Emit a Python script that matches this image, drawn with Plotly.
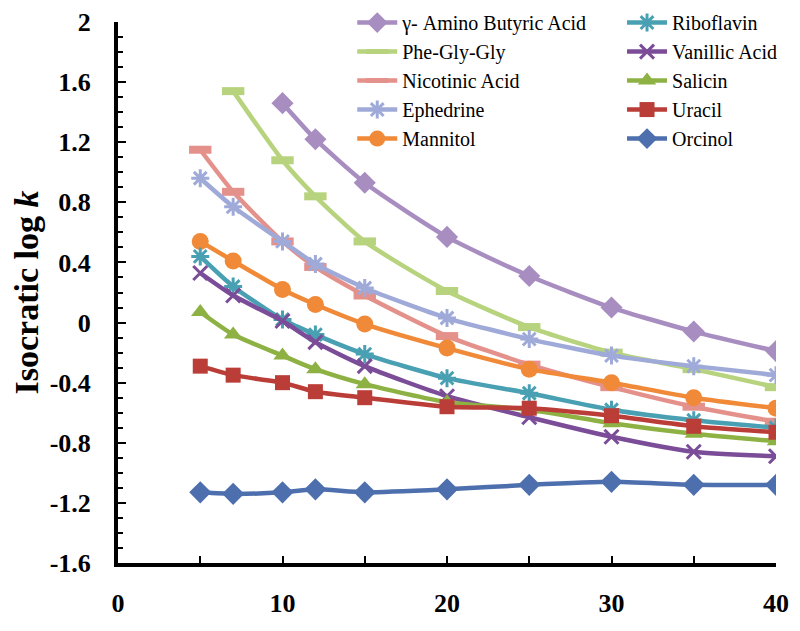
import plotly.graph_objects as go

# percentage of organic modifier (x) and isocratic log k per compound
conc = [5, 7, 10, 12, 15, 20, 25, 30, 35, 40]
conc_gaba = [10, 12, 15, 20, 25, 30, 35, 40]
conc_pgg = [7, 10, 12, 15, 20, 25, 30, 35, 40]

gaba = [1.46, 1.22, 0.93, 0.57, 0.31, 0.10, -0.06, -0.19]
phe_gly_gly = [1.54, 1.08, 0.84, 0.54, 0.21, -0.03, -0.20, -0.31, -0.43]
nicotinic = [1.15, 0.87, 0.54, 0.37, 0.18, -0.09, -0.28, -0.43, -0.56, -0.66]
ephedrine = [0.96, 0.77, 0.54, 0.39, 0.23, 0.03, -0.11, -0.22, -0.29, -0.35]
mannitol = [0.54, 0.41, 0.22, 0.12, -0.01, -0.17, -0.31, -0.40, -0.50, -0.57]
riboflavin = [0.44, 0.24, 0.02, -0.08, -0.21, -0.37, -0.47, -0.58, -0.65, -0.70]
vanillic = [0.33, 0.18, 0.01, -0.13, -0.29, -0.49, -0.63, -0.76, -0.86, -0.89]
salicin = [0.07, -0.08, -0.22, -0.31, -0.41, -0.53, -0.58, -0.67, -0.74, -0.79]
uracil = [-0.29, -0.35, -0.40, -0.46, -0.50, -0.56, -0.57, -0.62, -0.69, -0.73]
orcinol = [-1.13, -1.14, -1.13, -1.11, -1.13, -1.11, -1.08, -1.06, -1.08, -1.08]

y_ticks = [2, 1.6, 1.2, 0.8, 0.4, 0, -0.4, -0.8, -1.2, -1.6]
y_ticktext = ["2", "1.6", "1.2", "0.8", "0.4", "0", "-0.4", "-0.8", "-1.2", "-1.6"]
x_ticks = [0, 5, 10, 15, 20, 25, 30, 35, 40]
x_ticktext = ["0", "", "10", "", "20", "", "30", "", "40"]

# name, x, y, colour, marker symbol, marker size, legend
series = [
    ("\u03b3- Amino Butyric Acid", conc_gaba, gaba, "#a88dc1", "diamond", 17, "legend"),
    ("Phe-Gly-Gly", conc_pgg, phe_gly_gly, "#b7d37e", "line-ew", 16, "legend"),
    ("Nicotinic Acid", conc, nicotinic, "#e5918b", "line-ew", 16, "legend"),
    ("Ephedrine", conc, ephedrine, "#9faad9", "asterisk-open", 15, "legend"),
    ("Mannitol", conc, mannitol, "#f08a38", "circle", 17, "legend"),
    ("Riboflavin", conc, riboflavin, "#4aa0b3", "asterisk-open", 15, "legend2"),
    ("Vanillic Acid", conc, vanillic, "#7b4c97", "x-thin-open", 14, "legend2"),
    ("Salicin", conc, salicin, "#8db143", "triangle-up", 16, "legend2"),
    ("Uracil", conc, uracil, "#bb3d38", "square", 15, "legend2"),
    ("Orcinol", conc, orcinol, "#4d6fae", "diamond", 17, "legend2"),
]

fig = go.Figure()
for name, xs, ys, col, sym, size, leg in series:
    if sym == "line-ew":
        mlw = 8
    elif sym in ("asterisk-open", "x-thin-open"):
        mlw = 3
    else:
        mlw = 0
    fig.add_trace(go.Scatter(
        x=xs, y=ys, name=name, mode="lines+markers",
        line=dict(color=col, width=4.5, shape="spline", smoothing=0.6),
        marker=dict(symbol=sym, size=size, color=col, line=dict(color=col, width=mlw)),
        legend=leg,
    ))

legend_style = dict(
    font=dict(family="Liberation Serif", size=20, color="black"),
    bgcolor="rgba(0,0,0,0)", yanchor="top", xanchor="left",
    tracegroupgap=0, itemwidth=40,
)

# the page body adds an 8px offset, margins are set to compensate
fig.update_layout(
    width=800, height=631,
    margin=dict(l=110, r=32, t=14, b=76, autoexpand=False),
    paper_bgcolor="white", plot_bgcolor="white",
    font=dict(family="Liberation Serif", color="black"),
    legend=dict(x=0.356, y=1.035, **legend_style),
    legend2=dict(x=0.766, y=1.035, **legend_style),
    showlegend=True,
)

fig.update_xaxes(
    range=[0, 40], tickvals=x_ticks, ticktext=x_ticktext,
    showline=True, linecolor="black", linewidth=4, mirror=False,
    ticks="inside", ticklen=7, tickwidth=2, tickcolor="black",
    showgrid=False, zeroline=False,
    tickfont=dict(family="Liberation Serif", size=26, color="black", weight="bold"),
    ticklabelstandoff=14,
)
fig.update_yaxes(
    range=[-1.6, 2], tickvals=y_ticks, ticktext=y_ticktext,
    showline=True, linecolor="black", linewidth=4, mirror=False,
    ticks="inside", ticklen=8, tickwidth=2, tickcolor="black",
    minor=dict(dtick=0.1, ticks="inside", ticklen=5, tickwidth=2, tickcolor="black", showgrid=False),
    showgrid=False, zeroline=False,
    tickfont=dict(family="Liberation Serif", size=26, color="black", weight="bold"),
    ticklabelstandoff=18,
    title=dict(text="<b>Isocratic log <i>k</i></b>", standoff=16,
               font=dict(family="Liberation Serif", size=34, color="black")),
)

fig.write_html("out.html")
